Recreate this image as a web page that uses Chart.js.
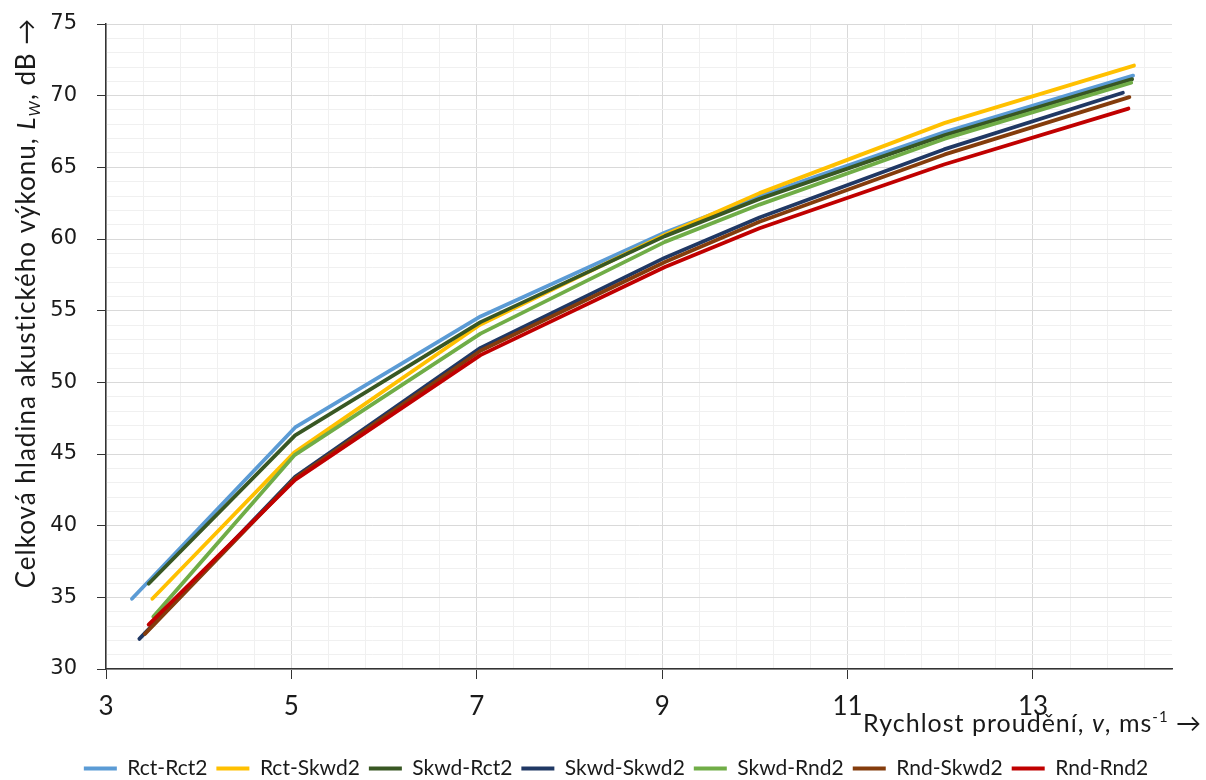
<!DOCTYPE html>
<html>
<head>
<meta charset="utf-8">
<script src="https://cdn.jsdelivr.net/npm/chart.js@4.4.1/dist/chart.umd.min.js"></script>
<style>
  html, body { margin: 0; padding: 0; background: #ffffff; }
  #chart { display: block; }
</style>
</head>
<body>
<canvas id="chart" width="1206" height="780"></canvas>
<script>
// series names as in the legend
const seriesNames = ["Rct-Rct2", "Rct-Skwd2", "Skwd-Rct2", "Skwd-Skwd2", "Skwd-Rnd2", "Rnd-Skwd2", "Rnd-Rnd2"];

// flow velocity v [m/s] and sound power level Lw [dB] per series
const rctRct2V   = [3.28, 5.04, 7.04, 9.03, 10.05, 12.04, 14.08];
const rctRct2L   = [34.9, 46.85, 54.6, 60.45, 63.0, 67.45, 71.4];
const rctSkwd2V  = [3.50, 5.03, 7.03, 9.03, 10.05, 12.05, 14.09];
const rctSkwd2L  = [34.9, 45.1, 54.0, 60.3, 63.2, 68.1, 72.1];
const skwdRct2V  = [3.46, 5.04, 7.04, 9.03, 10.05, 12.05, 14.07];
const skwdRct2L  = [35.95, 46.3, 54.2, 60.2, 62.8, 67.25, 71.15];
const skwdSkwd2V = [3.36, 5.04, 7.04, 9.03, 10.05, 12.04, 13.97];
const skwdSkwd2L = [32.1, 43.4, 52.4, 58.7, 61.5, 66.25, 70.2];
const skwdRnd2V  = [3.51, 5.03, 7.04, 9.03, 10.05, 12.05, 14.06];
const skwdRnd2L  = [33.65, 44.9, 53.4, 59.8, 62.4, 67.0, 70.9];
const rndSkwd2V  = [3.42, 5.04, 7.04, 9.03, 10.05, 12.05, 14.04];
const rndSkwd2L  = [32.45, 43.3, 52.2, 58.4, 61.2, 65.9, 69.9];
const rndRnd2V   = [3.46, 5.04, 7.04, 9.03, 10.05, 12.04, 14.03];
const rndRnd2L   = [33.1, 43.2, 51.9, 58.05, 60.75, 65.2, 69.1];

// axis ticks
const xTickLabels = [3, 5, 7, 9, 11, 13];
const yTickLabels = [30, 35, 40, 45, 50, 55, 60, 65, 70, 75];
const xMin = 3, xMax = 14.5, xMinorStep = 0.4;
const yMin = 30, yMax = 75, yMinorStep = 1;

const seriesV = [rctRct2V, rctSkwd2V, skwdRct2V, skwdSkwd2V, skwdRnd2V, rndSkwd2V, rndRnd2V];
const seriesL = [rctRct2L, rctSkwd2L, skwdRct2L, skwdSkwd2L, skwdRnd2L, rndSkwd2L, rndRnd2L];
const colors = ["#5b9bd5", "#ffc000", "#385723", "#203864", "#70ad47", "#843c0c", "#c00000"];

const textColor = "#1a1a1a";
const majorGrid = "#d9d9d9";
const minorGrid = "#f0f0f0";
const axisColor = "#333333";

function isMajor(list, v) {
    return list.some(m => Math.abs(m - v) < 1e-6);
}

function minorTicks(min, max, step) {
    const t = [];
    for (let k = 0; min + k * step <= max + 1e-9; k++) {
        t.push({ value: +(min + k * step).toFixed(3) });
    }
    return t;
}

const datasets = seriesNames.map((name, i) => ({
    label: name,
    data: seriesV[i].map((v, j) => ({ x: v, y: seriesL[i][j] })),
    borderColor: colors[i],
    backgroundColor: colors[i],
    borderWidth: 3.8,
    borderCapStyle: "round",
    borderJoinStyle: "round",
    pointRadius: 0,
    tension: 0,
    order: seriesNames.length - 1 - i
}));

// axis titles with italic / sub / superscript parts
function drawParts(ctx, parts, x, y, align) {
    let total = 0;
    parts.forEach(p => {
        ctx.font = p.font;
        p.w = ctx.measureText(p.t).width;
        total += p.w;
    });
    let cx = align === "right" ? x - total : (align === "center" ? x - total / 2 : x);
    parts.forEach(p => {
        ctx.font = p.font;
        ctx.fillText(p.t, cx, y + (p.dy || 0));
        cx += p.w;
    });
}

const titlesPlugin = {
    id: "titles",
    afterLayout(chart) {
        // nudge the legend row down/right to where the reference has it
        const lg = chart.legend;
        lg.top += 9; lg.bottom += 9;
        lg.left += 30; lg.right += 30;
    },
    afterDraw(chart) {
        const ctx = chart.ctx;
        ctx.save();
        ctx.fillStyle = textColor;
        ctx.textBaseline = "alphabetic";
        ctx.textAlign = "left";
        ctx.letterSpacing = "1px";

        const f = "25px Lato";
        drawParts(ctx, [
            { t: "Rychlost proudění, ", font: f },
            { t: "v", font: "italic " + f },
            { t: ", ms", font: f },
            { t: "-1", font: "15px Lato", dy: -10 },
            { t: " \u2192", font: f }
        ], 1202, 732, "right");

        const g = "26px Lato";
        ctx.translate(35, 303);
        ctx.rotate(-Math.PI / 2);
        drawParts(ctx, [
            { t: "Celková hladina akustického výkonu, ", font: g },
            { t: "L", font: "italic " + g },
            { t: "W", font: "italic 16px Lato", dy: 5 },
            { t: ", dB \u2192", font: g }
        ], 0, 0, "center");
        ctx.restore();
    }
};

new Chart(document.getElementById("chart"), {
    type: "line",
    data: { datasets: datasets },
    options: {
        responsive: false,
        animation: false,
        devicePixelRatio: 1,
        layout: { padding: { left: 0, right: 34, top: 24, bottom: 0 } },
        plugins: {
            tooltip: { enabled: false },
            legend: {
                position: "bottom",
                labels: {
                    font: { family: "Lato", size: 21 },
                    color: textColor,
                    usePointStyle: true,
                    pointStyle: "line",
                    pointStyleWidth: 33,
                    boxHeight: 4,
                    padding: 9,
                    sort: (a, b) => a.datasetIndex - b.datasetIndex
                }
            }
        },
        scales: {
            x: {
                type: "linear",
                min: xMin,
                max: xMax,
                afterBuildTicks: axis => { axis.ticks = minorTicks(xMin, xMax, xMinorStep); },
                afterFit: s => { s.height = s.chart.height - 669 - s.chart.legend.height; },
                ticks: {
                    autoSkip: false,
                    maxRotation: 0,
                    padding: 12,
                    color: textColor,
                    font: { family: "Lato", size: 26 },
                    callback: v => isMajor(xTickLabels, v) ? String(v) : ""
                },
                grid: {
                    color: c => isMajor(xTickLabels, c.tick.value) ? majorGrid : minorGrid,
                    tickColor: c => isMajor(xTickLabels, c.tick.value) ? axisColor : "rgba(0,0,0,0)",
                    tickLength: 10,
                    lineWidth: 1
                },
                border: { color: axisColor, width: 1.5 }
            },
            y: {
                min: yMin,
                max: yMax,
                afterBuildTicks: axis => { axis.ticks = minorTicks(yMin, yMax, yMinorStep); },
                afterFit: s => { s.width = 106; s.paddingTop = 0; s.paddingBottom = 0; },
                ticks: {
                    autoSkip: false,
                    padding: 20,
                    color: textColor,
                    font: { family: "DejaVu Sans", size: 21 },
                    callback: v => isMajor(yTickLabels, v) ? String(v) : ""
                },
                grid: {
                    color: c => isMajor(yTickLabels, c.tick.value) ? majorGrid : minorGrid,
                    tickColor: c => isMajor(yTickLabels, c.tick.value) ? axisColor : "rgba(0,0,0,0)",
                    tickLength: 9,
                    lineWidth: 1
                },
                border: { color: axisColor, width: 1.5 }
            }
        }
    },
    plugins: [titlesPlugin]
});
</script>
</body>
</html>
